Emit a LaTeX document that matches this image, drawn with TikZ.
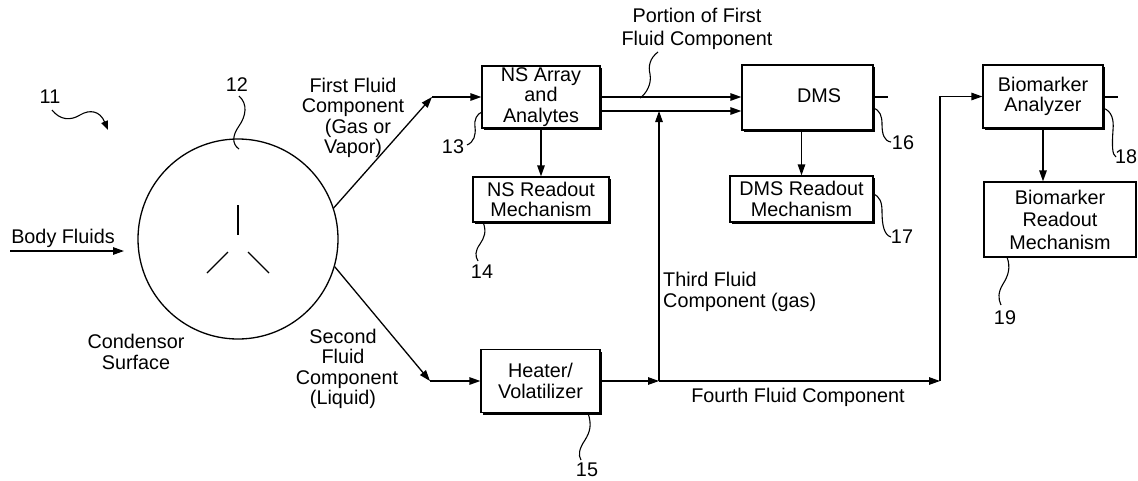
\documentclass[tikz,border=0pt]{standalone}
\usepackage{fontspec}
\setmainfont{Liberation Sans}
\usetikzlibrary{arrows.meta,shadows,calc}
\begin{document}
\begin{tikzpicture}[x=1pt,y=-1pt,
  every node/.style={font=\fontsize{19.8}{20.5}\selectfont, inner sep=0pt},
  box/.style={draw, line width=1.3pt, fill=white, align=center,
    general shadow={fill=black, shadow xshift=2.2pt, shadow yshift=-2.2pt}},
  plainbox/.style={draw, line width=1.3pt, fill=white, align=center},
  flow/.style={line width=1.3pt},
  arr/.style={flow, -{Triangle[length=11pt,width=7.5pt]}},
  lead/.style={line width=1.1pt},
]
\useasboundingbox (0,0) rectangle (1138,480);

% condenser
\node[draw, circle, line width=1.3pt, minimum size=200pt] (cond) at (238,239) {};
\draw[flow] (238,205) -- (238,235);
\draw[flow] (228,252) -- (207,273);
\draw[flow] (248,252) -- (269,273);

% boxes
\node[box, minimum width=118pt, minimum height=62pt] (ns) at (541,97) {NS Array\\and\\Analytes};
\node[box, minimum width=136pt, minimum height=45pt] (nsr) at (541,199.5) {NS Readout\\Mechanism};
\node[box, minimum width=131pt, minimum height=65pt] (dms) at (807.5,97.5) {};
\node (dmst) at (819,96) {DMS};
\node[box, minimum width=143pt, minimum height=46pt] (dmsr) at (801.5,199) {DMS Readout\\Mechanism};
\node[box, minimum width=119pt, minimum height=63pt] (heat) at (540.5,381) {Heater/\\Volatilizer};
\node[box, minimum width=120pt, minimum height=63pt] (ba) at (1043,96.5) {Biomarker\\Analyzer};
\node[plainbox, minimum width=152pt, minimum height=75pt] (br) at (1060,219.5) {Biomarker\\[2pt]Readout\\[2pt]Mechanism};

% coordinates
\coordinate (bf0) at (10,251);
\coordinate (bf1) at (124,251);
\coordinate (k1) at (432,97);
\coordinate (k2) at (430,381);
\coordinate (j3) at (659,111);
\coordinate (j4) at (659,381);
\coordinate (c5) at (940,381);
\coordinate (s16) at (888,97);
\coordinate (s18) at (1118,97);

% flows
\draw[arr] (bf0) -- (bf1);
\draw[arr] (cond.18) -- (k1);
\draw[arr] (k1) -- (k1 -| ns.west);
\draw[arr] (cond.-16) -- (k2);
\draw[arr] (k2) -- (k2 -| heat.west);
\draw[arr] (ns.east) -- (ns.east -| dms.west);
\draw[flow] (ns.east |- j3) -- (j3);
\draw[arr] (j3) -- (j3 -| dms.west);
\draw[arr] (heat.east |- j4) -- (j4);
\draw[arr] (j4) -- (j3);
\draw[arr] (j4) -- (c5);
\draw[arr] (c5) |- (ba.west);
\draw[arr] (ns.south) -- (nsr.north);
\draw[arr] (dmsr.north |- dms.south) -- (dmsr.north);
\draw[arr] (ba.south) -- (ba.south |- br.north);
\draw[flow] (dms.east |- s16) -- (s16);
\draw[flow] (ba.east |- s18) -- (s18);

% texts
\node (tbf) at (63,238) {Body Fluids};
\node[align=center] (tcs) at (136,352) {Condensor\\Surface};
\node[align=center] (tff) at (353,118) {First Fluid\\Component\\\hspace*{10pt}(Gas or\\Vapor)};
\node[align=center] (tsf) at (343,369) {Second\\Fluid\\\hspace*{8pt}Component\\(Liquid)};
\node[align=center] (tpf) at (697,29) {Portion of First\\[2pt]Fluid Component};
\node[align=left, anchor=west] (ttf) at (663,292) {Third Fluid\\Component (gas)};
\node (tfo) at (798,397) {Fourth Fluid Component};

% reference numerals
\node (l11) at (50,97) {11};
\node (l12) at (237,85) {12};
\node (l13) at (453,147) {13};
\node (l14) at (482,272) {14};
\node (l15) at (587,470) {15};
\node (l16) at (903,143) {16};
\node (l17) at (902,237) {17};
\node (l18) at (1126,157) {18};
\node (l19) at (1005,318) {19};

% leader lines
\draw[lead, -{Triangle[length=9pt,width=7pt]}] (52,110) .. controls (60,120) and (70,121) .. (80,115) .. controls (90,109) and (100,111) .. (108,130);
\draw[lead] (239,96) .. controls (248,104) and (246,116) .. (239,126) .. controls (232,136) and (232,144) .. (239,149);
\draw[lead] (467,145) .. controls (474,142) and (476,135) .. (475,127) .. controls (474,119) and (477,114) .. (482,112);
\draw[lead] (483,222) .. controls (487,232) and (484,238) .. (480,244) .. controls (475,251) and (475,256) .. (478,261);
\draw[lead] (588,413) .. controls (592,425) and (590,432) .. (585,440) .. controls (579,449) and (578,455) .. (581,460);
\draw[lead] (658,52) .. controls (650,58) and (648,66) .. (650,74) .. controls (652,84) and (646,94) .. (640,98);
\draw[lead] (873,108) .. controls (880,110) and (882,116) .. (882,124) .. controls (882,134) and (884,141) .. (891,142);
\draw[lead] (873,194) .. controls (880,196) and (882,203) .. (882,211) .. controls (882,225) and (884,235) .. (891,237);
\draw[lead] (1103,108) .. controls (1112,111) and (1114,120) .. (1113,130) .. controls (1112,145) and (1112,155) .. (1116,157);
\draw[lead] (1007,257) .. controls (1011,268) and (1008,276) .. (1003,284) .. controls (998,292) and (998,299) .. (1001,305);
\end{tikzpicture}
\end{document}
